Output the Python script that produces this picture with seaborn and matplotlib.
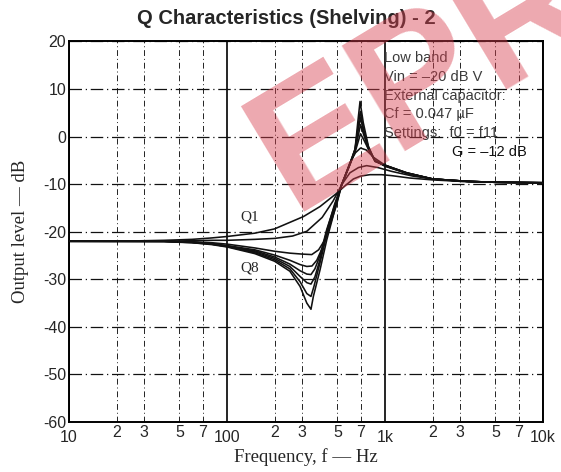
import numpy as np
import pandas as pd
import matplotlib
matplotlib.use("Agg")
import matplotlib.pyplot as plt
from matplotlib.ticker import FixedLocator, FixedFormatter
import seaborn as sns

# ---------------- data ----------------
q1_f = [10, 20, 40, 60, 80, 100, 150, 200, 305, 388, 495, 560, 631, 700, 803, 950, 1100, 1430, 2000, 3000, 5000, 10000]
q1_db = [-22.0, -22.0, -21.8, -21.6, -21.3, -21.0, -20.3, -19.4, -16.8, -14.7, -11.9, -10.3, -8.9, -8.3, -8.0, -8.0, -8.2, -8.7, -9.1, -9.4, -9.6, -9.7]

q2_f = [10, 40, 80, 100, 150, 200, 260, 320, 400, 470, 532, 600, 680, 765, 900, 1100, 1500, 2000, 3000, 5000, 10000]
q2_db = [-22.0, -22.0, -21.8, -21.8, -21.6, -21.4, -20.9, -19.9, -17.0, -13.5, -10.1, -7.6, -6.5, -6.1, -6.5, -7.3, -8.3, -8.9, -9.4, -9.6, -9.7]

q3_f = [10, 40, 60, 80, 100, 150, 200, 250, 300, 344, 380, 420, 460, 495, 532, 600, 650, 700, 760, 850, 1000, 1370, 2000, 3300, 5000, 10000]
q3_db = [-22.0, -22.0, -22.1, -22.3, -22.6, -23.4, -24.1, -24.5, -24.7, -24.8, -23.8, -21.5, -17.5, -14.2, -10.1, -5.5, -3.4, -2.4, -2.8, -4.4, -6.0, -7.7, -8.9, -9.4, -9.6, -9.7]

q4_f = [10, 40, 60, 80, 100, 150, 200, 250, 290, 320, 345, 370, 400, 440, 480, 532, 600, 650, 700, 740, 800, 865, 1000, 1370, 2000, 3300, 5000, 10000]
q4_db = [-22.0, -22.0, -22.2, -22.5, -22.9, -23.8, -24.9, -26.0, -26.9, -27.3, -27.2, -26.0, -23.5, -18.5, -14.2, -10.1, -5.8, -3.0, 0.6, -0.9, -3.2, -5.0, -6.2, -7.7, -8.9, -9.4, -9.6, -9.7]

q5_f = [10, 40, 60, 80, 100, 150, 200, 250, 290, 320, 340, 360, 388, 428, 480, 532, 600, 646, 672, 700, 735, 785, 865, 1000, 1370, 2000, 3300, 5000, 10000]
q5_db = [-22.0, -22.0, -22.2, -22.5, -23.0, -24.0, -25.3, -26.8, -28.2, -28.9, -29.0, -27.8, -25.0, -19.5, -14.5, -10.1, -5.9, -3.0, -0.3, 2.5, 0.3, -2.6, -5.1, -6.2, -7.7, -8.9, -9.4, -9.6, -9.7]

q6_f = [10, 40, 60, 80, 100, 150, 200, 250, 290, 320, 340, 360, 388, 428, 480, 532, 600, 646, 672, 700, 729, 785, 865, 1000, 1370, 2000, 3300, 5000, 10000]
q6_db = [-22.0, -22.0, -22.2, -22.6, -23.1, -24.2, -25.6, -27.3, -29.4, -30.7, -31.0, -29.5, -25.8, -20.0, -14.8, -10.1, -5.8, -2.8, 0.8, 4.0, 1.3, -2.4, -5.1, -6.1, -7.6, -8.9, -9.4, -9.6, -9.7]

q7_f = [10, 40, 60, 80, 100, 150, 200, 250, 290, 320, 340, 355, 388, 428, 480, 532, 600, 646, 672, 697, 729, 785, 865, 1000, 1370, 2000, 3300, 5000, 10000]
q7_db = [-22.0, -22.0, -22.3, -22.6, -23.1, -24.4, -25.9, -27.8, -30.5, -33.0, -33.6, -31.5, -26.5, -20.6, -15.0, -10.1, -5.7, -2.6, 1.5, 5.3, 1.8, -2.2, -5.2, -6.0, -7.6, -8.9, -9.4, -9.6, -9.7]

q8_f = [10, 40, 60, 80, 100, 150, 200, 250, 290, 320, 340, 352, 388, 428, 480, 532, 600, 646, 672, 695, 729, 785, 865, 1000, 1370, 2000, 3300, 5000, 10000]
q8_db = [-22.0, -22.1, -22.3, -22.7, -23.2, -24.6, -26.2, -28.3, -31.5, -35.0, -36.3, -33.6, -28.0, -21.7, -15.5, -10.1, -5.6, -2.7, 2.9, 7.4, 2.9, -2.0, -5.2, -6.0, -7.6, -8.9, -9.4, -9.6, -9.7]

curve_names = ["Q1", "Q2", "Q3", "Q4", "Q5", "Q6", "Q7", "Q8"]
curve_freqs = [q1_f, q2_f, q3_f, q4_f, q5_f, q6_f, q7_f, q8_f]
curve_dbs = [q1_db, q2_db, q3_db, q4_db, q5_db, q6_db, q7_db, q8_db]

y_ticks = [20, 10, 0, -10, -20, -30, -40, -50, -60]
x_major = [10, 100, 1000, 10000]
x_major_labels = ["10", "100", "1k", "10k"]
x_minor = [20, 30, 50, 70, 200, 300, 500, 700, 2000, 3000, 5000, 7000]
x_minor_labels = ["2", "3", "5", "7"] * 3

title = "Q Characteristics (Shelving) - 2"
notes = ["Low band", "Vin = \u201320 dB V", "External capacitor:", "Cf = 0.047 \u00b5F",
         "Settings:  f0 = f11"]
note_g = "G = \u201312 dB"

# ---------------- figure ----------------
sns.set_style("white")
plt.rcParams["font.family"] = ["Liberation Sans", "DejaVu Sans"]

fig = plt.figure(figsize=(5.61, 4.72), dpi=100)
ax = fig.add_axes([69 / 561, 1 - 422 / 472, (543 - 69) / 561, (422 - 41.5) / 472])

rows = []
for name, fs, ds in zip(curve_names, curve_freqs, curve_dbs):
    for f, d in zip(fs, ds):
        rows.append({"freq": f, "dB": d, "Q": name})
df = pd.DataFrame(rows)

sns.lineplot(data=df, x="freq", y="dB", units="Q", estimator=None, color="#111111",
             linewidth=1.15, ax=ax, zorder=3, legend=False)

ax.set_xscale("log")
ax.set_xlim(10, 10000)
ax.set_ylim(-60, 20)

ax.xaxis.set_major_locator(FixedLocator(x_major))
ax.xaxis.set_major_formatter(FixedFormatter(x_major_labels))
ax.xaxis.set_minor_locator(FixedLocator(x_minor))
ax.xaxis.set_minor_formatter(FixedFormatter(x_minor_labels))
ax.set_yticks(y_ticks)
ax.set_yticklabels([str(v) if v >= 0 else "-" + str(-v) for v in y_ticks])

ax.tick_params(axis="x", which="major", length=0, pad=6, labelsize=11.5)
ax.tick_params(axis="x", which="minor", length=0, pad=2, labelsize=11.5)
ax.tick_params(axis="y", which="major", length=0, pad=2, labelsize=11.5)

ax.grid(axis="x", which="major", color="black", linewidth=1.2, linestyle="-")
ax.grid(axis="x", which="minor", color="#222222", linewidth=0.7, linestyle=(0, (6, 3, 1, 3)))
ax.grid(axis="y", which="major", color="#111111", linewidth=0.9, linestyle=(0, (10, 3, 1, 3)))
ax.set_axisbelow(True)

for s in ax.spines.values():
    s.set_color("black")
    s.set_linewidth(1.4)

serif = ["Liberation Serif", "DejaVu Serif"]
ax.set_xlabel("Frequency, f \u2014 Hz", family=serif, fontsize=13.5, labelpad=2)
ax.set_ylabel("Output level \u2014 dB", family=serif, fontsize=13.5, labelpad=10)

fig.text(0.51, 1 - 19 / 472, title, ha="center", va="center", fontsize=14.5,
         fontweight="bold")

# annotation block
ys = [57.5, 76.7, 96, 114, 132.7]
for txt, yp in zip(notes, ys):
    fig.text(384 / 561, 1 - yp / 472, txt, ha="left", va="center", fontsize=10.5,
             color="#3a3a3a")
fig.text(452 / 561, 1 - 151.7 / 472, note_g, ha="left", va="center", fontsize=10.5,
         color="#111111")

# curve labels
ax.text(0.382, 0.539, "Q1", transform=ax.transAxes, family=serif, fontsize=11,
        ha="center", va="center")
ax.text(0.382, 0.405, "Q8", transform=ax.transAxes, family=serif, fontsize=11,
        ha="center", va="center")

# watermark
fig.text(425 / 561, 1 - 78 / 472, "EPR", ha="center", va="center", fontsize=128,
         fontweight="bold", rotation=31, color="#d8404f", alpha=0.45, zorder=10)

fig.savefig("out.png", dpi=100)
